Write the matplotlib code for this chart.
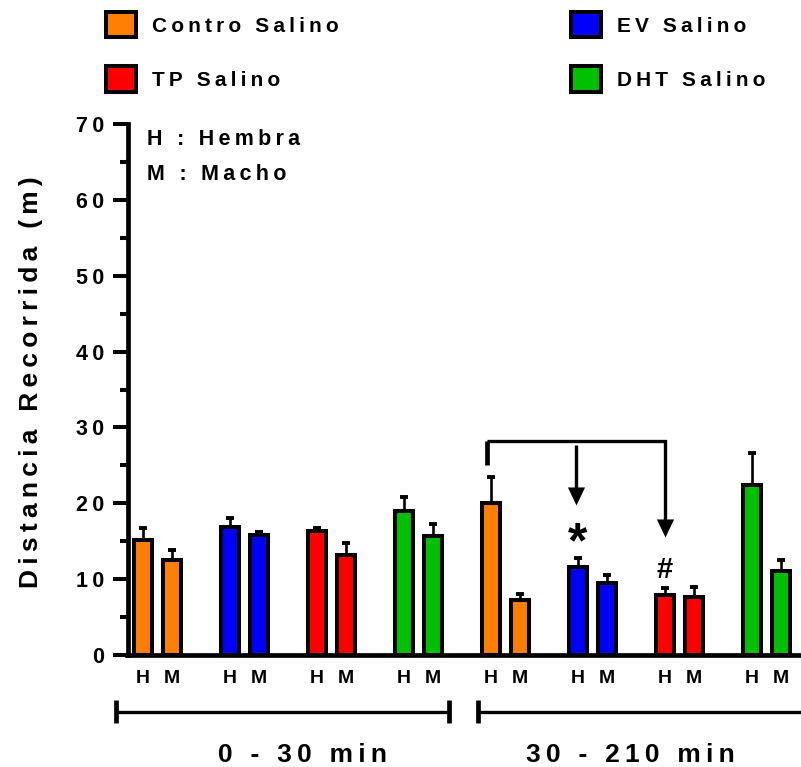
import numpy as np
import matplotlib
matplotlib.use("Agg")
import matplotlib.pyplot as plt
from matplotlib.path import Path

plt.rcParams['font.family'] = ['Liberation Sans', 'DejaVu Sans']
plt.rcParams['font.weight'] = 'bold'

# ---------------- data ----------------
periods = ['0 - 30 min', '30 - 210 min']
groups = ['Contro Salino', 'EV Salino', 'TP Salino', 'DHT Salino']
colors = ['#FF8000', '#0000FF', '#FF0000', '#00C000']
sexes = ['H', 'M']

mean_0_30_H = [15.2, 16.9, 16.4, 19.0]
mean_0_30_M = [12.5, 15.8, 13.2, 15.7]
sem_0_30_H = [1.6, 1.2, 0.3, 1.8]
sem_0_30_M = [1.4, 0.4, 1.6, 1.6]

mean_30_210_H = [20.0, 11.6, 7.9, 22.4]
mean_30_210_M = [7.2, 9.5, 7.7, 11.1]
sem_30_210_H = [3.5, 1.2, 0.9, 4.2]
sem_30_210_M = [0.9, 1.1, 1.3, 1.4]

means = [[mean_0_30_H, mean_0_30_M], [mean_30_210_H, mean_30_210_M]]
sems = [[sem_0_30_H, sem_0_30_M], [sem_30_210_H, sem_30_210_M]]

yticks = [0, 10, 20, 30, 40, 50, 60, 70]


def sp(s):
    """letter-spaced text (thin spaces between characters)"""
    return '\u2009'.join(s)


# ---------------- figure ----------------
W, H = 801, 767
fig = plt.figure(figsize=(W / 100, H / 100), dpi=100)
ax_left, ax_bottom, ax_top = 127.5, 655, 124
ax = fig.add_axes([ax_left / W, 1 - ax_bottom / H, 1 - ax_left / W, (ax_bottom - ax_top) / H])

bar_w = 0.62
xpos, xlabels = [], []
handles = {}
for p in range(len(periods)):
    for g in range(len(groups)):
        for s in range(2):
            x = 12 * p + 3 * g + s
            m = means[p][s][g]
            e = sems[p][s][g]
            b = ax.bar(x, m, width=bar_w, color=colors[g], edgecolor='black',
                       linewidth=2.9, zorder=3)
            ax.errorbar(x, m, yerr=[[0], [e]], fmt='none', ecolor='black',
                        elinewidth=1.9, capsize=3.0, capthick=2.8, zorder=2)
            xpos.append(x)
            xlabels.append(sexes[s])
            if p == 0 and s == 0:
                handles[groups[g]] = b

ax.set_xlim(-0.54, 22.70)
ax.set_ylim(0, 70)
for side in ['top', 'right']:
    ax.spines[side].set_visible(False)
ax.spines['left'].set_linewidth(3.4)
ax.spines['bottom'].set_linewidth(3.4)

ax.set_yticks(yticks)
ax.set_yticklabels([sp(str(v)) for v in yticks], fontsize=15.5, fontweight='bold')
ax.set_yticks(np.arange(5, 70, 10), minor=True)
ax.tick_params(axis='y', which='major', length=11, width=2.9, pad=5.5)
ax.tick_params(axis='y', which='minor', length=5.5, width=2.9)
ax.set_xticks(xpos)
ax.set_xticklabels(xlabels, fontsize=14, fontweight='bold')
ax.tick_params(axis='x', length=0, pad=11)

ax.set_ylabel(sp('Distancia Recorrida (m)'), fontsize=19, fontweight='bold')
ax.yaxis.label.set_va('center')
ax.yaxis.set_label_coords((31 - ax_left) / (W - ax_left), (ax_bottom - 382) / (ax_bottom - ax_top))

# H / M key
ax.text(0.15, 68.0, sp('H : Hembra'), fontsize=15.5, fontweight='bold', va='center', ha='left')
ax.text(0.15, 63.3, sp('M : Macho'), fontsize=15.5, fontweight='bold', va='center', ha='left')

# comparison bracket + arrows
arrow_marker = Path([(0, 0), (-0.95, 2), (0.95, 2), (0, 0)],
                    [Path.MOVETO, Path.LINETO, Path.LINETO, Path.CLOSEPOLY])
yb = 28.17
ax.plot([11.86, 11.86], [25.1, yb], color='black', lw=3.4, solid_capstyle='butt', zorder=4)
ax.plot([11.86, 18.0, 18.0], [yb, yb, 15.6 + 1.2], color='black', lw=2.4,
        solid_joinstyle='miter', solid_capstyle='butt', zorder=4)
ax.plot([14.93, 14.93], [27.7, 19.8 + 1.2], color='black', lw=2.4, solid_capstyle='butt', zorder=4)
ax.plot([18.0], [15.6], marker=arrow_marker, ms=26, color='black', mew=0, zorder=4)
ax.plot([14.93], [19.8], marker=arrow_marker, ms=26, color='black', mew=0, zorder=4)
ax.text(15.0, 14.6, '*', fontsize=36, fontweight='bold', ha='center', va='center')
ax.text(18.0, 11.2, '#', fontsize=21, fontweight='bold', ha='center', va='center')

# period brackets below axis
tr = ax.get_xaxis_transform()
yl = -(711.7 - ax_bottom) / (ax_bottom - ax_top)
hc = 11.5 / (ax_bottom - ax_top)
for x0, x1, cap_right in [(-0.93, 10.57, True), (11.54, 23.5, False)]:
    ax.plot([x0, x1], [yl, yl], transform=tr, color='black', lw=2.4, clip_on=False,
            solid_capstyle='butt')
    ax.plot([x0, x0], [yl - hc, yl + hc], transform=tr, color='black', lw=3.4, clip_on=False,
            solid_capstyle='butt')
    if cap_right:
        ax.plot([x1, x1], [yl - hc, yl + hc], transform=tr, color='black', lw=3.4, clip_on=False,
                solid_capstyle='butt')
yt = -(755 - ax_bottom) / (ax_bottom - ax_top)
for xc, lab in zip([5.49, 16.8], periods):
    ax.text(xc, yt, sp(lab), transform=tr, fontsize=19, fontweight='bold',
            ha='center', va='center')

# legend (column-major: Contro, TP | EV, DHT)
order = ['Contro Salino', 'TP Salino', 'EV Salino', 'DHT Salino']
leg = fig.legend([handles[k] for k in order], [sp(k) for k in order],
                 loc='upper left', bbox_to_anchor=(106 / W, 1 - 12 / H),
                 ncol=2, frameon=False, fontsize=15, borderpad=0, borderaxespad=0,
                 handlelength=1.45, handleheight=1.5, handletextpad=0.75,
                 columnspacing=11.15, labelspacing=1.38)
for t in leg.get_texts():
    t.set_fontweight('bold')

fig.savefig('out.png', dpi=100)
